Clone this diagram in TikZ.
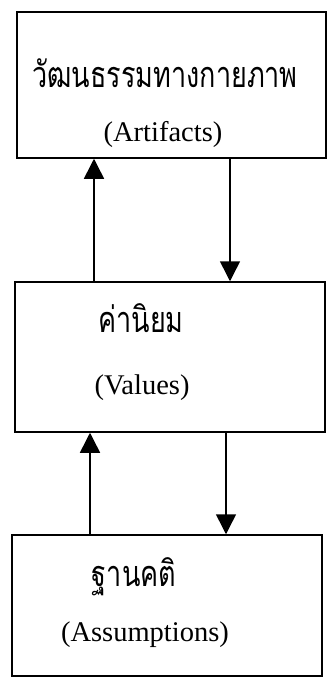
\documentclass[tikz,border=0pt]{standalone}
\usepackage{fontspec}
\setmainfont{Liberation Serif}
\newfontfamily\thaifont[Script=Thai]{Loma}
\usetikzlibrary{arrows.meta}
\newcommand{\thaitext}[1]{\scalebox{0.9}[1.2]{#1}}
\begin{document}
\begin{tikzpicture}[x=1pt,y=-1pt,
  box/.style={draw,line width=1.5pt,rectangle,inner sep=0pt},
  thai/.style={font=\thaifont\fontsize{30}{30}\selectfont,inner sep=0pt,anchor=base},
  eng/.style={font=\fontsize{28.5}{30}\selectfont,inner sep=0pt,anchor=base},
  arr/.style={line width=1.5pt,-{Triangle[width=20pt,length=20pt]}}]
\useasboundingbox (0,0) rectangle (327,680);
\node[box,minimum width=309pt,minimum height=146pt] (b1) at (171.5,85) {};
\node[box,minimum width=310pt,minimum height=150pt] (b2) at (170,357) {};
\node[box,minimum width=310pt,minimum height=141pt] (b3) at (167,605.5) {};
\node[thai] (t1) at (165,87) {\thaitext{วัฒนธรรมทางกายภาพ}};
\node[eng] (e1) at (163,141) {(Artifacts)};
\node[thai] (t2) at (141,332) {\thaitext{ค่านิยม}};
\node[eng] (e2) at (142,394) {(Values)};
\node[thai] (t3) at (134,586) {\thaitext{ฐานคติ}};
\node[eng] (e3) at (145,641) {(Assumptions)};
\coordinate (u1) at (94,0);
\coordinate (d1) at (230,0);
\coordinate (u2) at (90,0);
\coordinate (d2) at (226,0);
\draw[arr] (u1 |- b2.north) -- (u1 |- b1.south);
\draw[arr] (d1 |- b1.south) -- (d1 |- b2.north);
\draw[arr] (u2 |- b3.north) -- (u2 |- b2.south);
\draw[arr] (d2 |- b2.south) -- (d2 |- b3.north);
\end{tikzpicture}
\end{document}
